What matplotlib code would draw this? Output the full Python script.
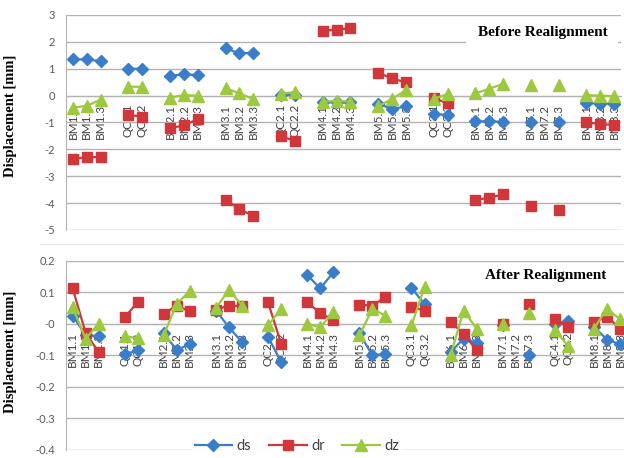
import numpy as np
import matplotlib
matplotlib.use("Agg")
import matplotlib.pyplot as plt
from matplotlib.lines import Line2D
from matplotlib.patches import Rectangle

n = np.nan

# Before realignment: '' marks an empty category between groups
labels_before = ['BM1.1', 'BM1.2', 'BM1.3', '', 'QC1.1', 'QC1.2', '',
                 'BM2.1', 'BM2.2', 'BM2.3', '', 'BM3.1', 'BM3.2', 'BM3.3', '',
                 'QC2.1', 'QC2.2', '', 'BM4.1', 'BM4.2', 'BM4.3', '',
                 'BM5.1', 'BM5.2', 'BM5.3', '', 'QC3.1', 'QC3.2', '',
                 'BM6.1', 'BM6.2', 'BM6.3', '', 'BM7.1', 'BM7.2', 'BM7.3', '',
                 'BM8.1', 'BM8.2', 'BM8.3']
ds_before = [1.35, 1.35, 1.28, n, 1.0, 1.0, n,
             0.73, 0.8, 0.76, n, 1.76, 1.57, 1.6, n,
             0.03, 0.03, n, -0.25, -0.25, -0.25, n,
             -0.3, -0.5, -0.4, n, -0.68, -0.72, n,
             -0.96, -0.95, -0.98, n, -1.0, n, -1.0, n,
             -0.28, -0.3, -0.3]
dr_before = [-2.35, -2.3, -2.28, n, -0.72, -0.78, n,
             -1.22, -1.1, -0.88, n, -3.88, -4.22, -4.48, n,
             -1.52, -1.68, n, 2.41, 2.46, 2.5, n,
             0.85, 0.64, 0.49, n, -0.1, -0.28, n,
             -3.88, -3.8, -3.67, n, -4.12, n, -4.27, n,
             -1.0, -1.05, -1.1]
dz_before = [-0.45, -0.38, -0.15, n, 0.33, 0.33, n,
             -0.07, 0.02, 0.0, n, 0.28, 0.08, -0.13, n,
             0.07, 0.13, n, -0.22, -0.2, -0.22, n,
             -0.4, -0.12, 0.2, n, -0.12, 0.06, n,
             0.08, 0.26, 0.43, n, 0.4, n, 0.38, n,
             0.02, 0.0, -0.02]

# After realignment
labels_after = ['BM1.1', 'BM1.2', 'BM1.3', '', 'QC1.1', 'QC1.2', '',
                'BM2.1', 'BM2.2', 'BM2.3', '', 'BM3.1', 'BM3.2', 'BM3.3', '',
                'QC2.1', 'QC2.2', '', 'BM4.1', 'BM4.2', 'BM4.3', '',
                'BM5.1', 'BM5.2', 'BM5.3', '', 'QC3.1', 'QC3.2', '',
                'BM6.1', 'BM6.2', 'BM6.3', '', 'BM7.1', 'BM7.2', 'BM7.3', '',
                'QC4.1', 'QC4.2', '', 'BM8.1', 'BM8.2', 'BM8.3']
ds_after = [0.026, -0.035, -0.04, n, -0.097, -0.084, n,
            -0.03, -0.084, -0.063, n, 0.042, -0.011, -0.058, n,
            -0.042, -0.121, n, 0.155, 0.112, 0.163, n,
            -0.03, -0.1, -0.095, n, 0.114, 0.062, n,
            -0.09, -0.047, -0.06, n, -0.005, n, -0.1, n,
            0.0, 0.008, n, -0.01, -0.05, -0.065]
dr_after = [0.114, -0.028, -0.09, n, 0.021, 0.068, n,
            0.032, 0.058, 0.039, n, 0.045, 0.058, 0.056, n,
            0.068, -0.063, n, 0.068, 0.035, 0.011, n,
            0.06, 0.058, 0.084, n, 0.053, 0.042, n,
            0.006, -0.032, -0.084, n, 0.0, n, 0.063, n,
            0.015, -0.01, n, 0.006, 0.022, -0.015]
dz_after = [0.053, -0.047, 0.0, n, -0.04, -0.045, n,
            -0.035, 0.063, 0.105, n, 0.05, 0.108, 0.058, n,
            -0.005, 0.047, n, 0.0, -0.011, 0.037, n,
            -0.037, 0.047, 0.026, n, -0.005, 0.116, n,
            -0.1, 0.042, -0.016, n, 0.0, n, 0.035, n,
            -0.02, -0.07, n, -0.015, 0.048, 0.014]

series_names = ['ds', 'dr', 'dz']
colors = ['#3A7DC9', '#D0363A', '#9CC93E']
markers = ['D', 's', '^']
msizes = [6, 7.5, 8]

plt.rcParams['font.family'] = ['Lato', 'DejaVu Sans']
grid_c = '#B3B3B3'
tick_c = '#595959'

fig = plt.figure(figsize=(6.24, 4.58), dpi=100)
ax1 = fig.add_axes([66/624, 1-230/458, 555/624, 215/458])
ax2 = fig.add_axes([66/624, 1-450/458, 558/624, 189.3/458])


def draw_panel(ax, labels, data, ylim, yticks, xmax, title, ylab_y):
    x = np.arange(len(labels))
    # category axis crosses at zero; set before the tick labels (it resets ticks)
    ax.spines['bottom'].set_position(('data', 0))
    ax.spines['bottom'].set_color(grid_c)
    ax.spines['left'].set_color(grid_c)
    ax.spines['top'].set_visible(False)
    ax.spines['right'].set_visible(False)
    for vals, c, m, ms, name in zip(data, colors, markers, msizes, series_names):
        ax.plot(x, vals, color=c, marker=m, markersize=ms, lw=1.6, label=name,
                zorder=3)
    ax.set_xlim(-0.5, xmax)
    ax.set_ylim(*ylim)
    ax.set_yticks(yticks)
    ax.set_yticklabels([f"{v:g}" for v in yticks])
    ax.grid(axis='y', color=grid_c, lw=1)
    ax.set_axisbelow(True)
    pos = [i for i, l in enumerate(labels) if l]
    ax.set_xticks(pos)
    ax.set_xticklabels([labels[i] for i in pos], rotation=90, fontsize=8.5,
                       color='#404040')
    ax.tick_params(axis='x', length=0, pad=6)
    ax.tick_params(axis='y', length=0, labelsize=8, labelcolor=tick_c, pad=8)
    ax.set_ylabel('Displacement [mm]', family='Liberation Serif',
                  fontweight='bold', fontsize=10.5)
    ax.yaxis.set_label_coords(-0.088, ylab_y)
    ax.text(0.86, 0.92, title, transform=ax.transAxes, ha='center',
            va='center', family='Liberation Serif', fontweight='bold',
            fontsize=11, zorder=5)


draw_panel(ax1, labels_before, [ds_before, dr_before, dz_before],
           (-5, 3), np.arange(-5, 4, 1), 39.5, 'Before Realignment', 0.53)
# white box behind the title hides the gridline as in the original
ax1.add_patch(Rectangle((0.721, 0.856), 0.274, 0.112, transform=ax1.transAxes,
                        facecolor='white', edgecolor='none', zorder=1.5))

draw_panel(ax2, labels_after, [ds_after, dr_after, dz_after],
           (-0.4, 0.2), np.round(np.arange(-0.4, 0.21, 0.1), 1), 42.3,
           'After Realignment', 0.52)

handles, labs = ax2.get_legend_handles_labels()
leg = fig.legend(handles, labs, loc='center', ncol=3,
                 bbox_to_anchor=(0.476, 1-446/458), frameon=True,
                 fontsize=10.5, handlelength=2.6, columnspacing=1.2,
                 handletextpad=0.3, borderpad=0.2)
leg.get_frame().set_facecolor('white')
leg.get_frame().set_edgecolor('none')
for t in leg.get_texts():
    t.set_color('#404040')

fig.add_artist(Line2D([40/624, 1], [1-244/458, 1-244/458], color='#E6E6E6',
                      lw=1))

fig.savefig('out.png', dpi=100)
